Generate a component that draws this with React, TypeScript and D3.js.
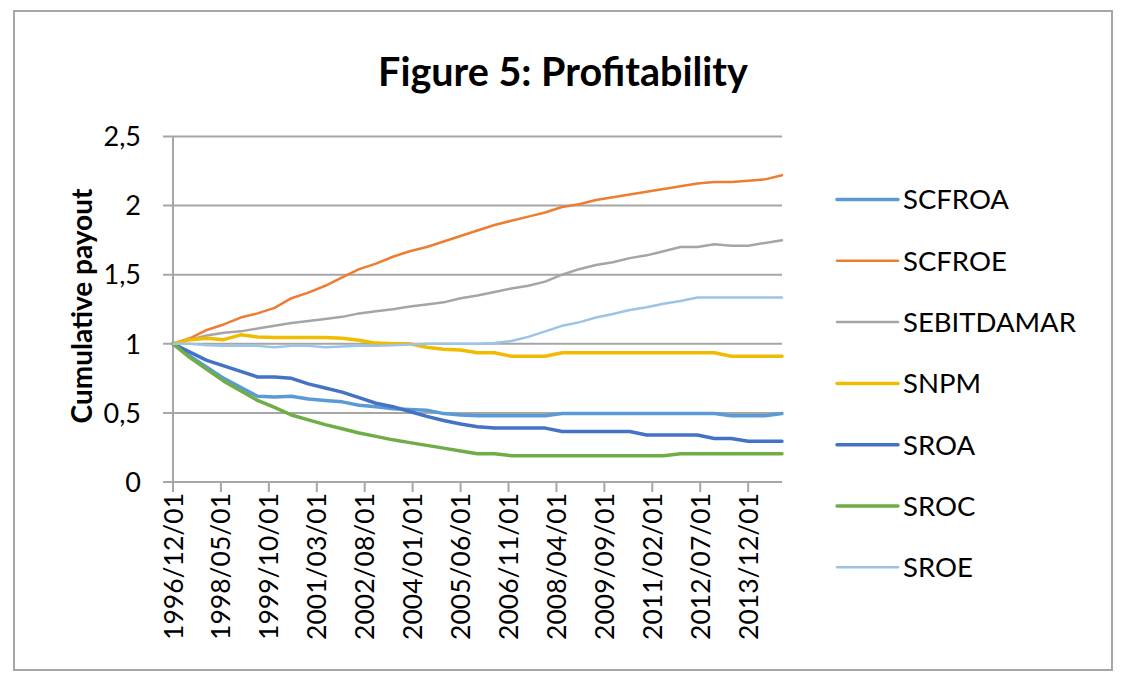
import React from "react";
import * as d3 from "d3";

// month index (0 = 1996/12/01, 216 = 2014/12/01), sampled every six months
const sampleIdx = [0, 6, 12, 18, 24, 30, 36, 42, 48, 54, 60, 66, 72, 78, 84, 90, 96, 102, 108, 114, 120, 126, 132, 138, 144, 150, 156, 162, 168, 174, 180, 186, 192, 198, 204, 210, 216];

const SCFROA = [1.0, 0.91, 0.83, 0.75, 0.685, 0.62, 0.615, 0.62, 0.6, 0.59, 0.58, 0.555, 0.545, 0.53, 0.525, 0.52, 0.495, 0.485, 0.48, 0.48, 0.48, 0.48, 0.48, 0.495, 0.495, 0.495, 0.495, 0.495, 0.495, 0.495, 0.495, 0.495, 0.495, 0.48, 0.48, 0.48, 0.495];
const SCFROE = [1.0, 1.04, 1.1, 1.14, 1.19, 1.22, 1.26, 1.33, 1.37, 1.42, 1.48, 1.54, 1.58, 1.63, 1.67, 1.7, 1.74, 1.78, 1.82, 1.86, 1.89, 1.92, 1.95, 1.99, 2.01, 2.04, 2.06, 2.08, 2.1, 2.12, 2.14, 2.16, 2.17, 2.17, 2.18, 2.19, 2.22];
const SEBITDAMAR = [1.0, 1.03, 1.06, 1.08, 1.09, 1.11, 1.13, 1.15, 1.165, 1.18, 1.195, 1.22, 1.235, 1.25, 1.27, 1.285, 1.3, 1.33, 1.35, 1.375, 1.4, 1.42, 1.45, 1.5, 1.54, 1.57, 1.59, 1.62, 1.64, 1.67, 1.7, 1.7, 1.72, 1.71, 1.71, 1.73, 1.75];
const SNPM = [1.0, 1.03, 1.04, 1.03, 1.065, 1.05, 1.045, 1.045, 1.045, 1.045, 1.04, 1.025, 1.005, 1.0, 1.0, 0.975, 0.96, 0.955, 0.935, 0.935, 0.91, 0.91, 0.91, 0.935, 0.935, 0.935, 0.935, 0.935, 0.935, 0.935, 0.935, 0.935, 0.935, 0.91, 0.91, 0.91, 0.91];
const SROA = [1.0, 0.94, 0.88, 0.84, 0.8, 0.76, 0.76, 0.75, 0.71, 0.68, 0.65, 0.61, 0.57, 0.545, 0.51, 0.475, 0.445, 0.42, 0.4, 0.39, 0.39, 0.39, 0.39, 0.365, 0.365, 0.365, 0.365, 0.365, 0.34, 0.34, 0.34, 0.34, 0.315, 0.315, 0.295, 0.295, 0.295];
const SROC = [1.0, 0.9, 0.815, 0.73, 0.66, 0.59, 0.54, 0.485, 0.45, 0.415, 0.385, 0.355, 0.33, 0.305, 0.285, 0.265, 0.245, 0.225, 0.205, 0.205, 0.19, 0.19, 0.19, 0.19, 0.19, 0.19, 0.19, 0.19, 0.19, 0.19, 0.205, 0.205, 0.205, 0.205, 0.205, 0.205, 0.205];
const SROE = [1.0, 1.0, 0.99, 0.985, 0.985, 0.985, 0.975, 0.985, 0.985, 0.975, 0.98, 0.985, 0.985, 0.99, 0.995, 1.0, 1.0, 1.0, 1.0, 1.005, 1.02, 1.05, 1.09, 1.13, 1.155, 1.19, 1.215, 1.245, 1.265, 1.29, 1.31, 1.335, 1.335, 1.335, 1.335, 1.335, 1.335];

const tickIdx = [0, 17, 34, 51, 68, 85, 102, 119, 136, 153, 170, 187, 204];
const tickLabels = ["1996/12/01", "1998/05/01", "1999/10/01", "2001/03/01", "2002/08/01", "2004/01/01", "2005/06/01", "2006/11/01", "2008/04/01", "2009/09/01", "2011/02/01", "2012/07/01", "2013/12/01"];
const yTicks = [0, 0.5, 1, 1.5, 2, 2.5];
const yTickLabels = ["0", "0,5", "1", "1,5", "2", "2,5"];

const seriesNames = ["SCFROA", "SCFROE", "SEBITDAMAR", "SNPM", "SROA", "SROC", "SROE"];
const seriesValues = [SCFROA, SCFROE, SEBITDAMAR, SNPM, SROA, SROC, SROE];
const seriesColors = ["#5b9bd5", "#ed7d31", "#a5a5a5", "#f0bb00", "#4472c4", "#70ad47", "#9dc3e6"];
const seriesWidths = [3.5, 2.5, 2.5, 3.5, 3.5, 3.5, 2.5];
const FONT = "Lato, 'Open Sans', sans-serif";

export default function App() {
  const W = 1139, H = 687;
  const x = d3.scaleLinear().domain([0, 216]).range([173, 782]);
  const y = d3.scaleLinear().domain([0, 2.5]).range([482, 136.5]);
  const line = d3.line<number>()
    .x((_, i) => x(sampleIdx[i]))
    .y((d) => y(d));

  const gridColor = "#a6a6a6";

  return (
    <svg width={W} height={H} style={{ position: "absolute", left: 0, top: 0, background: "#fff" }}>
      <rect x={0} y={0} width={W} height={H} fill="#fff" />
      <rect x={14} y={11} width={1098} height={659} fill="#fff" stroke={gridColor} strokeWidth={2} />
      <text x={563} y={86} textAnchor="middle" fontFamily={FONT} fontWeight="bold" fontSize={39.5} fill="#000">
        Figure 5: Profitability
      </text>

      {/* gridlines */}
      {yTicks.map((t, i) => (
        <g key={"g" + i}>
          <line x1={163} x2={782} y1={y(t)} y2={y(t)} stroke={gridColor} strokeWidth={2} />
          <text x={141} y={y(t)} dy="0.36em" textAnchor="end" fontFamily={FONT} fontSize={27} fill="#000">
            {yTickLabels[i]}
          </text>
        </g>
      ))}
      {/* y axis */}
      <line x1={173} x2={173} y1={y(2.5)} y2={492} stroke={gridColor} strokeWidth={2} />
      {/* x ticks */}
      {tickIdx.map((t, i) => (
        <g key={"x" + i}>
          <line x1={x(t)} x2={x(t)} y1={482} y2={492} stroke={gridColor} strokeWidth={2} />
          <text
            transform={`translate(${x(t)},${493}) rotate(-90)`}
            dy="0.36em"
            textAnchor="end"
            fontFamily={FONT}
            fontSize={26.5}
            fill="#000"
          >
            {tickLabels[i]}
          </text>
        </g>
      ))}

      {/* y axis title */}
      <text transform={`translate(92,306) rotate(-90)`} textAnchor="middle" fontFamily={FONT} fontWeight="bold" fontSize={28} fill="#000">
        Cumulative payout
      </text>

      {/* series */}
      {seriesValues.map((vals, i) => (
        <path key={"s" + i} d={line(vals) || ""} fill="none" stroke={seriesColors[i]} strokeWidth={seriesWidths[i]} strokeLinejoin="round" strokeLinecap="round" />
      ))}

      {/* legend */}
      {seriesNames.map((n, i) => {
        const ly = 199.5 + i * 61.3;
        return (
          <g key={"l" + i}>
            <line x1={837} x2={898} y1={ly} y2={ly} stroke={seriesColors[i]} strokeWidth={seriesWidths[i]} strokeLinecap="round" />
            <text x={903} y={ly} dy="0.36em" fontFamily={FONT} fontSize={27.5} fill="#000">
              {n}
            </text>
          </g>
        );
      })}
    </svg>
  );
}
